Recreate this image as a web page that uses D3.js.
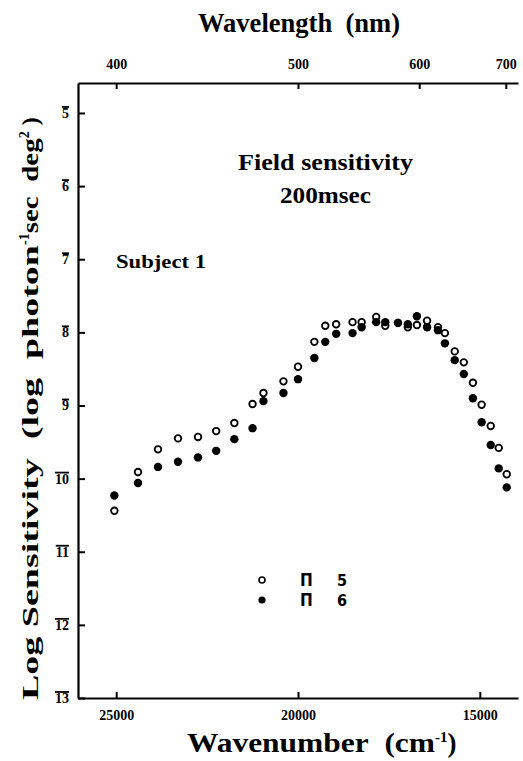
<!DOCTYPE html>
<html>
<head>
<meta charset="utf-8">
<script src="https://cdn.jsdelivr.net/npm/d3@7"></script>
<style>
  body { margin: 0; background: #fff; }
  text { font-family: "Liberation Serif", "Times New Roman", serif; font-weight: bold; fill: #000; }
</style>
</head>
<body>
<div id="chart"></div>
<script>
// ---------------------------------------------------------------------------
// DATA (wavenumber in cm-1, log sensitivity as printed on the axis: 5 at top)
// ---------------------------------------------------------------------------
const wavenumbers = [25050, 24400, 23850, 23300, 22750, 22250, 21750, 21250, 20950, 20400,
                     20000, 19550, 19250, 18950, 18500, 18250, 17850, 17600, 17250, 16980,
                     16730, 16450, 16150, 15960, 15690, 15440, 15190, 14950, 14700, 14480, 14260];
const pi5 = [10.44, 9.91, 9.60, 9.45, 9.43, 9.35, 9.24, 8.98, 8.83, 8.67,
             8.47, 8.13, 7.91, 7.89, 7.86, 7.86, 7.79, 7.91, 7.87, 7.93,
             7.90, 7.84, 7.93, 8.01, 8.26, 8.41, 8.69, 8.99, 9.28, 9.58, 9.94];
const pi6 = [10.23, 10.06, 9.84, 9.77, 9.71, 9.62, 9.46, 9.31, 8.94, 8.83,
             8.64, 8.35, 8.13, 8.02, 8.01, 7.93, 7.86, 7.86, 7.87, 7.89,
             7.78, 7.93, 7.97, 8.15, 8.38, 8.57, 8.90, 9.23, 9.54, 9.86, 10.12];

const wavenumberTicks = [25000, 20000, 15000];
const wavelengthTicks = [400, 500, 600, 700];
const sensitivityTicks = [5, 6, 7, 8, 9, 10, 11, 12, 13];

// ---------------------------------------------------------------------------
// SVG + SCALES
// ---------------------------------------------------------------------------
const W = 523, H = 761;
const svg = d3.select('#chart').append('svg')
    .attr('width', W)
    .attr('height', H);

const x = d3.scaleLinear().domain([26050, 13950]).range([78, 518]);
const y = d3.scaleLinear().domain([4.59, 13]).range([83, 698]);

// ---------------------------------------------------------------------------
// AXES (ticks point inward, no right frame)
// ---------------------------------------------------------------------------
const bottomAxis = svg.append('g')
    .attr('transform', `translate(0,${y(13)})`)
    .call(d3.axisBottom(x).tickValues(wavenumberTicks).tickFormat(d3.format('d'))
        .tickSizeInner(-6).tickSizeOuter(0).tickPadding(12));

const topAxis = svg.append('g')
    .attr('transform', `translate(0,${y(4.59)})`)
    .call(d3.axisTop(x).tickValues(wavelengthTicks.map(nm => 1e7 / nm))
        .tickFormat((d, i) => wavelengthTicks[i]).tickSizeInner(-6).tickSizeOuter(0).tickPadding(14));

const leftAxis = svg.append('g')
    .attr('transform', `translate(${x(26050)},0)`)
    .call(d3.axisLeft(y).tickValues(sensitivityTicks).tickSizeInner(-7).tickSizeOuter(0).tickPadding(9));

[bottomAxis, topAxis, leftAxis].forEach(g => {
    g.select('.domain').attr('stroke', '#000').attr('stroke-width', 2.2);
    g.selectAll('.tick line').attr('stroke', '#000').attr('stroke-width', 2);
    g.selectAll('.tick text')
        .style('font-family', '"Liberation Serif", serif')
        .style('font-weight', 'bold')
        .style('font-size', '14px');
});

// overbar on the log-sensitivity tick labels
leftAxis.selectAll('.tick').each(function () {
    const box = d3.select(this).select('text').node().getBBox();
    d3.select(this).append('line')
        .attr('x1', box.x).attr('x2', box.x + box.width)
        .attr('y1', box.y + 1).attr('y2', box.y + 1)
        .attr('stroke', '#000').attr('stroke-width', 1.8);
});

// ---------------------------------------------------------------------------
// POINTS
// ---------------------------------------------------------------------------
svg.append('g').selectAll('circle')
    .data(wavenumbers.map((w, i) => [w, pi5[i]]))
    .join('circle')
    .attr('cx', d => x(d[0]))
    .attr('cy', d => y(d[1]))
    .attr('r', 3.3)
    .attr('fill', '#fff')
    .attr('stroke', '#000')
    .attr('stroke-width', 1.8);

svg.append('g').selectAll('circle')
    .data(wavenumbers.map((w, i) => [w, pi6[i]]))
    .join('circle')
    .attr('cx', d => x(d[0]))
    .attr('cy', d => y(d[1]))
    .attr('r', 4.2)
    .attr('fill', '#000');

// ---------------------------------------------------------------------------
// LABELS
// ---------------------------------------------------------------------------
const NB = '\u00a0';

svg.append('text')
    .attr('x', 198).attr('y', 32)
    .attr('textLength', 202)
    .attr('lengthAdjust', 'spacingAndGlyphs')
    .style('font-size', '27px')
    .text(`Wavelength${NB}${NB}(nm)`);

svg.append('text')
    .attr('x', 187).attr('y', 752)
    .style('font-size', '27px')
    .call(t => {
        t.append('tspan').attr('textLength', 248).attr('lengthAdjust', 'spacingAndGlyphs')
            .text(`Wavenumber${NB}${NB}(cm`);
        t.append('tspan').attr('dy', -10).style('font-size', '15px').text('-1');
        t.append('tspan').attr('dy', 10).text(')');
    });

svg.append('text')
    .attr('transform', 'translate(38,700) rotate(-90)')
    .style('font-size', '24px')
    .call(t => {
        t.append('tspan').attr('textLength', 455).attr('lengthAdjust', 'spacingAndGlyphs')
            .text(`Log${NB}Sensitivity${NB}${NB}(log${NB}${NB}photon`);
        t.append('tspan').attr('dy', -9).style('font-size', '14px').text('-1');
        t.append('tspan').attr('dy', 9).attr('textLength', 95).attr('lengthAdjust', 'spacingAndGlyphs')
            .text(`sec${NB}${NB}deg`);
        t.append('tspan').attr('dy', -9).style('font-size', '14px').text('2');
        t.append('tspan').attr('dy', 9).text(`${NB})`);
    });

svg.append('text')
    .attr('x', 238).attr('y', 170)
    .attr('textLength', 175)
    .attr('lengthAdjust', 'spacingAndGlyphs')
    .style('font-size', '24px')
    .text('Field sensitivity');

svg.append('text')
    .attr('x', 280).attr('y', 203)
    .attr('textLength', 91)
    .attr('lengthAdjust', 'spacingAndGlyphs')
    .style('font-size', '24px')
    .text('200msec');

svg.append('text')
    .attr('x', 116).attr('y', 268)
    .attr('textLength', 90)
    .attr('lengthAdjust', 'spacingAndGlyphs')
    .style('font-size', '19px')
    .text('Subject 1');

// ---------------------------------------------------------------------------
// LEGEND
// ---------------------------------------------------------------------------
const legend = svg.append('g').attr('transform', 'translate(262,580)');
['5', '6'].forEach((lab, i) => {
    const row = legend.append('g').attr('transform', `translate(0,${i * 20})`);
    if (i === 0) {
        row.append('circle').attr('r', 3).attr('fill', '#fff').attr('stroke', '#000').attr('stroke-width', 1.6);
    } else {
        row.append('circle').attr('r', 3.6).attr('fill', '#000');
    }
    row.append('text')
        .attr('x', 38).attr('y', 6)
        .style('font-family', '"Liberation Sans Narrow", "DejaVu Sans Condensed", sans-serif')
        .style('font-size', '17px')
        .text('Π');
    row.append('text')
        .attr('x', 75).attr('y', 6)
        .style('font-family', '"Liberation Sans Narrow", "DejaVu Sans Condensed", sans-serif')
        .style('font-size', '16px')
        .text(lab);
});
</script>
</body>
</html>
